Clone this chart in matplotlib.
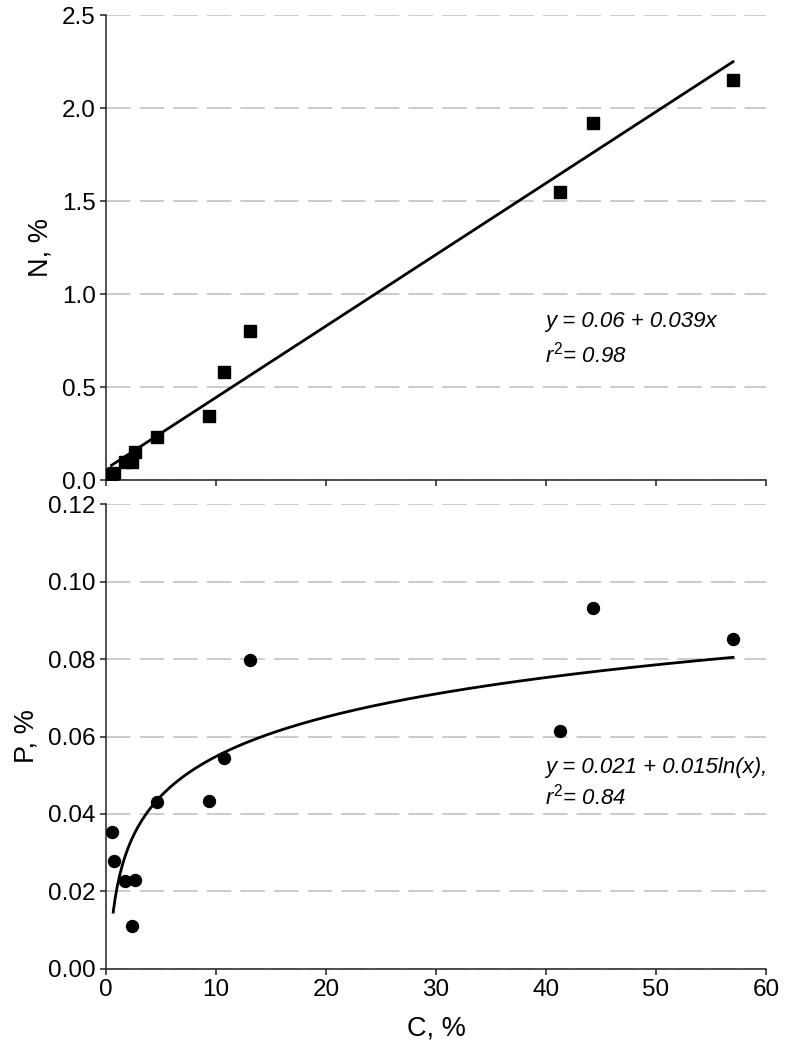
import numpy as np
import matplotlib
matplotlib.use('Agg')
import matplotlib.pyplot as plt
from matplotlib.ticker import FormatStrFormatter

plt.rcParams['font.family'] = ['Liberation Sans', 'DejaVu Sans']
plt.rcParams['mathtext.fontset'] = 'custom'
plt.rcParams['mathtext.rm'] = 'Liberation Sans'
plt.rcParams['mathtext.it'] = 'Liberation Sans:italic'

# samples: carbon, nitrogen, phosphorus (%)
c_pct = [0.55, 0.7, 1.7, 2.4, 2.6, 4.6, 9.4, 10.7, 13.1, 41.3, 44.3, 57.0]
n_pct = [0.035, 0.04, 0.098, 0.098, 0.152, 0.232, 0.345, 0.58, 0.80, 1.55, 1.92, 2.15]
p_pct = [0.0353, 0.0279, 0.0228, 0.0111, 0.023, 0.043, 0.0434, 0.0544, 0.0797, 0.0614, 0.0931, 0.0851]

# fitted curves as drawn
n_fit = (0.06, 0.0384)   # y = a + b*x
p_fit = (0.021, 0.0147)  # y = a + b*ln(x)

n_ticks = [0.0, 0.5, 1.0, 1.5, 2.0, 2.5]
p_ticks = [0.00, 0.02, 0.04, 0.06, 0.08, 0.10, 0.12]
c_ticks = [0, 10, 20, 30, 40, 50, 60]

FS_TICK = 17.5
FS_LAB = 19.5
FS_TXT = 16
fig = plt.figure(figsize=(7.86, 10.49), dpi=100)
ax1 = fig.add_axes([0.1349, 0.5424, 0.8397, 0.4433])
ax2 = fig.add_axes([0.1349, 0.0763, 0.8397, 0.4432], sharex=ax1)

for ax in (ax1, ax2):
    ax.spines['top'].set_visible(False)
    ax.spines['right'].set_visible(False)
    for s in ('left', 'bottom'):
        ax.spines[s].set_linewidth(1.1)
        ax.spines[s].set_color('#222222')
    ax.tick_params(direction='out', length=4.5, width=1.1, labelsize=FS_TICK,
                   color='#222222', pad=3)
    ax.yaxis.grid(True, color='#bdbdbd', linewidth=1.1, dashes=(16, 6))
    ax.set_axisbelow(True)

# N vs C
xs = np.linspace(0.5, 57.0, 50)
ax1.plot(xs, n_fit[0] + n_fit[1] * xs, color='black', lw=2.0, zorder=3)
ax1.plot(c_pct, n_pct, 's', color='black', ms=8.6, zorder=4)
ax1.set_ylim(0, 2.5)
ax1.set_yticks(n_ticks)
ax1.yaxis.set_major_formatter(FormatStrFormatter('%.1f'))
ax1.set_ylabel('N, %', fontsize=FS_LAB, labelpad=6)
ax1.tick_params(axis='x', labelbottom=False)
ax1.text(0.665, 0.329, 'y = 0.06 + 0.039x', transform=ax1.transAxes,
         fontsize=FS_TXT, style='italic')
ax1.text(0.665, 0.252, r'$r^{2}$= 0.98', transform=ax1.transAxes,
         fontsize=FS_TXT, style='italic')

# P vs C
xl = np.linspace(0.65, 57.0, 300)
ax2.plot(xl, p_fit[0] + p_fit[1] * np.log(xl), color='black', lw=2.0, zorder=3)
ax2.plot(c_pct, p_pct, 'o', color='black', ms=8.6, zorder=4)
ax2.set_ylim(0, 0.12)
ax2.set_yticks(p_ticks)
ax2.yaxis.set_major_formatter(FormatStrFormatter('%.2f'))
ax2.set_ylabel('P, %', fontsize=FS_LAB, labelpad=6)
ax2.set_xlim(0, 60)
ax2.set_xticks(c_ticks)
ax2.set_xlabel('C, %', fontsize=FS_LAB, labelpad=10)
ax2.text(0.665, 0.421, 'y = 0.021 + 0.015ln(x),', transform=ax2.transAxes,
         fontsize=FS_TXT, style='italic')
ax2.text(0.665, 0.353, r'$r^{2}$= 0.84', transform=ax2.transAxes,
         fontsize=FS_TXT, style='italic')

fig.savefig('out.png', dpi=100)
